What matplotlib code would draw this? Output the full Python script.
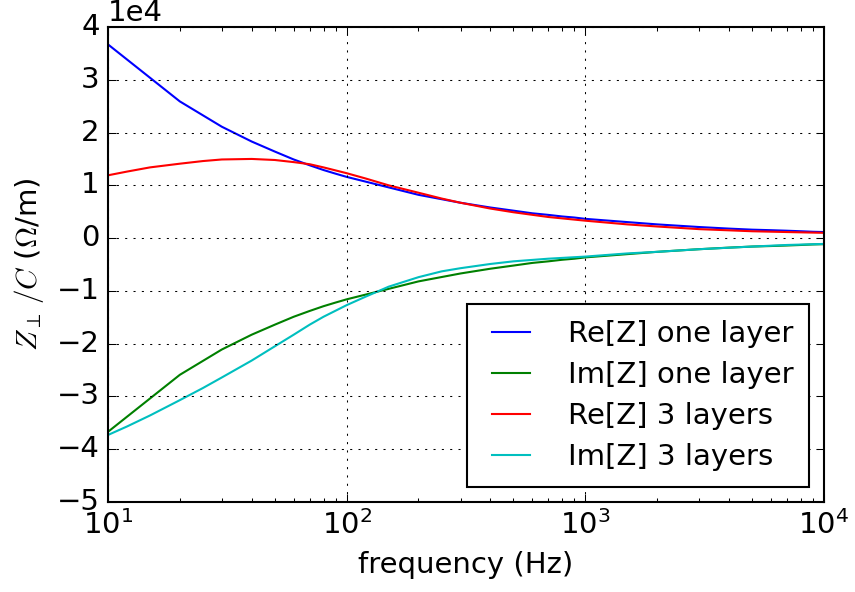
import matplotlib
matplotlib.use('Agg')
import matplotlib.pyplot as plt
import numpy as np

### Data (values in units of 1e4 Ohm/m) ###
## one layer, coarse frequency grid
freq_one = [10, 20, 30, 40, 50, 60, 70, 80, 90,
            100, 200, 300, 400, 500, 600, 700, 800, 900,
            1000, 2000, 3000, 4000, 5000, 6000, 7000, 8000, 9000, 10000]
re_one = [3.67, 2.59, 2.11, 1.83, 1.64, 1.49, 1.38, 1.29, 1.22,
          1.16, 0.82, 0.67, 0.58, 0.52, 0.47, 0.44, 0.41, 0.39,
          0.365, 0.26, 0.21, 0.18, 0.16, 0.15, 0.14, 0.13, 0.12, 0.115]
im_one = [-3.67, -2.59, -2.11, -1.83, -1.64, -1.49, -1.38, -1.29, -1.22,
          -1.16, -0.82, -0.67, -0.58, -0.52, -0.47, -0.44, -0.41, -0.39,
          -0.365, -0.26, -0.21, -0.18, -0.16, -0.15, -0.14, -0.13, -0.12, -0.115]

## 3 layers, finer frequency grid
freq_three = [10, 12, 15, 20, 25, 30, 40, 50, 60, 70, 80,
              100, 120, 150, 200, 250, 300, 400, 500, 700,
              1000, 1500, 2000, 3000, 5000, 7000, 10000]
re_three = [1.19, 1.26, 1.34, 1.41, 1.46, 1.49, 1.50, 1.48, 1.44, 1.40, 1.34,
            1.23, 1.13, 1.00, 0.86, 0.75, 0.67, 0.56, 0.49, 0.40,
            0.33, 0.26, 0.22, 0.17, 0.13, 0.115, 0.10]
im_three = [-3.73, -3.57, -3.36, -3.07, -2.84, -2.64, -2.32, -2.05, -1.83, -1.64, -1.49,
            -1.27, -1.11, -0.92, -0.74, -0.63, -0.57, -0.49, -0.44, -0.39,
            -0.35, -0.29, -0.26, -0.21, -0.16, -0.13, -0.11]

labels = ['Re[Z] one layer', 'Im[Z] one layer', 'Re[Z] 3 layers', 'Im[Z] 3 layers']
colors = ['b', 'g', 'r', 'c']

### Plot ###
plt.style.use('classic')
plt.rcParams['font.size'] = 14

fig = plt.figure(figsize=(5.7, 3.9467), dpi=150, facecolor='white')
ax = fig.add_axes([0.1263, 0.152, 0.8374, 0.8024])

series = [(freq_one, re_one), (freq_one, im_one), (freq_three, re_three), (freq_three, im_three)]
for (f, vals), lab, col in zip(series, labels, colors):
    ax.plot(f, np.array(vals) * 1e4, color=col, lw=1, label=lab)

ax.set_xscale('log')
ax.set_xlim(10, 1e4)
ax.set_ylim(-5e4, 4e4)
ax.ticklabel_format(axis='y', style='sci', scilimits=(0, 0))
ax.grid(True)

ax.set_xlabel('frequency (Hz)')
ax.set_ylabel(r'$Z_\perp\,/C$ ($\Omega$/m)')

ax.legend(loc='lower right', fontsize=14, numpoints=2, handlelength=1.9,
          handletextpad=1.0, borderpad=0.55, labelspacing=0.45, borderaxespad=0.5)

fig.savefig('out.png', dpi=150, facecolor='white')
